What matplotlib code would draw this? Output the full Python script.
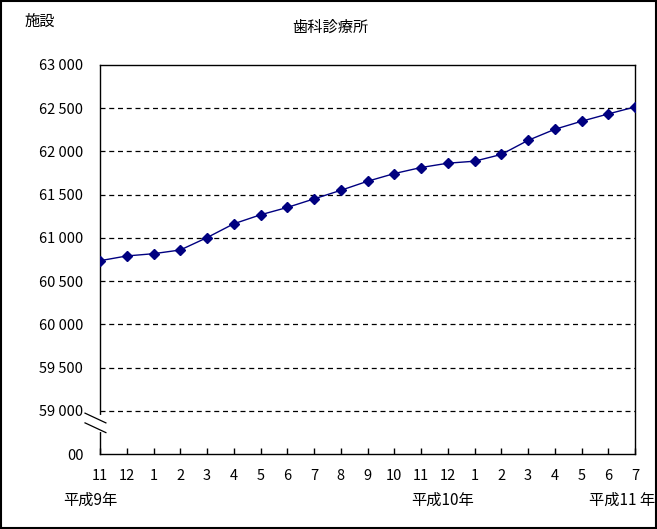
import matplotlib
matplotlib.use("Agg")
import matplotlib.pyplot as plt
from matplotlib.patches import Rectangle

plt.rcParams['font.family'] = ['Noto Sans CJK JP', 'DejaVu Sans']

# 歯科診療所の施設数 (平成9年11月 ~ 平成11年7月)
months = ['11', '12', '1', '2', '3', '4', '5', '6', '7', '8', '9', '10',
          '11', '12', '1', '2', '3', '4', '5', '6', '7']
counts = [60736, 60791, 60817, 60860, 61003, 61163, 61267, 61352, 61451,
          61550, 61655, 61744, 61814, 61864, 61887, 61965, 62128, 62256,
          62349, 62434, 62515]
y_ticks = [58500, 59000, 59500, 60000, 60500, 61000, 61500, 62000, 62500, 63000]
y_labels = ['00', '59 000', '59 500', '60 000', '60 500', '61 000',
            '61 500', '62 000', '62 500', '63 000']
grid_vals = y_ticks[1:-1]

W, H = 657, 529
fig = plt.figure(figsize=(W / 100, H / 100), dpi=100)
ax = fig.add_axes([100 / W, (H - 454) / H, 535 / W, 389 / H])

x = list(range(len(counts)))
for g in grid_vals:
    ax.axhline(g, color='black', lw=0.9, ls=(0, (4, 3)), zorder=1)
ax.plot(x, counts, color='#000080', lw=1, marker='D', markersize=5,
        markerfacecolor='#000080', markeredgecolor='#000080', zorder=3)

ax.set_xlim(0, len(counts) - 1)
ax.set_ylim(58500, 63000)
ax.set_xticks(x)
ax.set_xticklabels(months, fontsize=10.5)
ax.set_yticks(y_ticks)
ax.set_yticklabels(y_labels, fontsize=10.5)
ax.tick_params(axis='x', direction='in', length=4, width=1, pad=11)
ax.tick_params(axis='y', length=0, pad=12)
for s in ax.spines.values():
    s.set_linewidth(1)

# 軸の省略記号
ax.plot([0, 0], [0.062, 0.094], transform=ax.transAxes, color='white',
        lw=3, clip_on=False, zorder=5)
ax.plot([-0.028, 0.011], [0.105, 0.080], transform=ax.transAxes,
        color='black', lw=0.9, clip_on=False, zorder=6)
ax.plot([-0.028, 0.011], [0.080, 0.055], transform=ax.transAxes,
        color='black', lw=0.9, clip_on=False, zorder=6)

fig.text(330 / W, 1 - 27 / H, '歯科診療所', ha='center', va='center', fontsize=11)
fig.text(40 / W, 1 - 21 / H, '施設', ha='center', va='center', fontsize=11)
fig.text(90 / W, 1 - 500 / H, '平成9年', ha='center', va='center', fontsize=11)
fig.text(443 / W, 1 - 500 / H, '平成10年', ha='center', va='center', fontsize=11)
fig.text(622 / W, 1 - 500 / H, '平成11 年', ha='center', va='center', fontsize=11)

fig.patches.append(Rectangle((0.001, 0.001), 0.998, 0.998, transform=fig.transFigure,
                             fill=False, edgecolor='black', lw=1.5))

fig.savefig('out.png', dpi=100)
